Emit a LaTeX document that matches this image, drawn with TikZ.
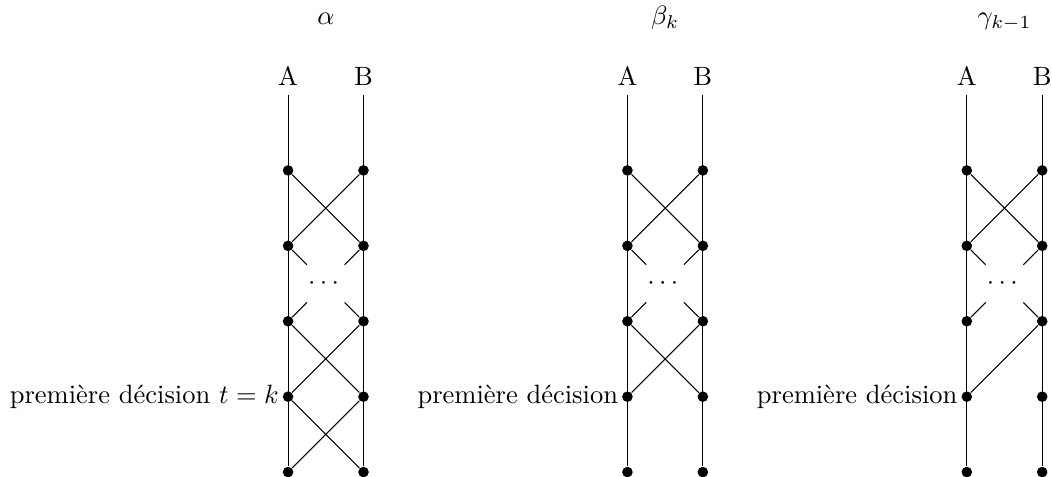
\documentclass[tikz,border=0pt]{standalone}
\usepackage{amsmath, amssymb}
\usepackage{tikz}
\usetikzlibrary{positioning, calc}

\begin{document}
\begin{tikzpicture}[pt/.style={circle, fill, inner sep=0pt, minimum size=4pt}]
\useasboundingbox (-3.82,-0.053) rectangle (10.13,6.26);

% Three ladders: columns A and B, dots at each step
\foreach \p/\x in {1/0, 2/4.5, 3/9} {
    \node[above] (A\p) at (\x,5) {A};
    \node[above] (B\p) at (\x+1,5) {B};
    \foreach \i in {0,...,4} {
        \node[pt] (A\p-\i) at (\x,\i) {};
        \node[pt] (B\p-\i) at (\x+1,\i) {};
    }
    \draw (A\p.south) -- (A\p-0);
    \draw (B\p.south) -- (B\p-0);
    % first crossing
    \draw (A\p-4) -- (B\p-3) (B\p-4) -- (A\p-3);
    % cut crossing with dots
    \draw (A\p-3) -- ($(A\p-3)!0.25!(B\p-2)$);
    \draw (B\p-3) -- ($(B\p-3)!0.25!(A\p-2)$);
    \draw (A\p-2) -- ($(A\p-2)!0.25!(B\p-3)$);
    \draw (B\p-2) -- ($(B\p-2)!0.25!(A\p-3)$);
    \node (dots\p) at (\x+0.5,2.5) {$\cdots$};
}

% Titles
\node[anchor=base] (alpha) at (0.5,5.93) {$\alpha$};
\node[anchor=base] (beta) at (5,5.93) {$\beta_k$};
\node[anchor=base] (gamma) at (9.5,5.93) {$\gamma_{k-1}$};

% Lower crossings
\draw (A1-2) -- (B1-1) (B1-2) -- (A1-1);
\draw (A1-1) -- (B1-0) (B1-1) -- (A1-0);
\draw (A2-2) -- (B2-1) (B2-2) -- (A2-1);
\draw (B3-2) -- (A3-1);

% Labels
\node[left] (dec1) at (A1-1) {première décision $t=k$};
\node[left] (dec2) at (A2-1) {première décision};
\node[left] (dec3) at (A3-1) {première décision};
\end{tikzpicture}
\end{document}
